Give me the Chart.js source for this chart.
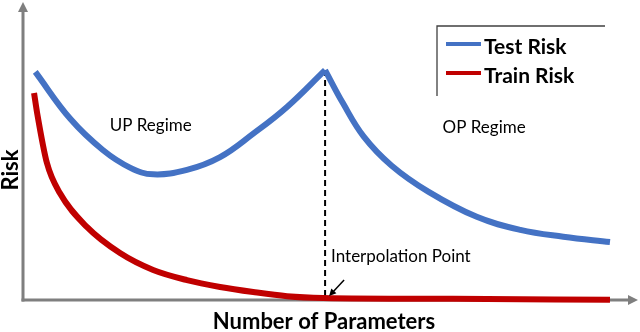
<!DOCTYPE html>
<html>
<head>
<meta charset="utf-8">
<script src="https://cdn.jsdelivr.net/npm/chart.js@4/dist/chart.umd.min.js"></script>
<style>
  html, body { margin: 0; padding: 0; background: #fff; }
  #wrap { width: 640px; height: 332px; }
</style>
</head>
<body>
<div id="wrap"><canvas id="risk-chart"></canvas></div>
<script>
// values (arbitrary units, 0..100 on both axes)
var testX  = [2.0, 7.7, 13.0, 17.5, 21.2, 26.7, 32.1, 37.5, 43.0, 49.2, 52.1, 55.5, 60.0, 66.0, 73.9, 81.0, 88.0, 95.6];
var testY  = [76.8, 61.0, 50.5, 44.5, 42.3, 43.8, 48.1, 56.0, 65.0, 77.4, 66.3, 55.0, 45.3, 36.5, 28.0, 23.6, 21.3, 19.5];
var trainX = [1.8, 2.3, 3.9, 6.0, 10.4, 15.8, 21.2, 26.7, 32.1, 37.5, 43.0, 48.9, 70.0, 95.6];
var trainY = [69.7, 63.0, 46.1, 36.0, 24.6, 15.8, 10.1, 6.7, 4.4, 2.7, 1.3, 0.7, 0.4, 0.1];
var interpolationX = 49.2;   // peak of test risk
var seriesNames = ["Test Risk", "Train Risk"];
var axisTitles  = ["Number of Parameters", "Risk"];
var regimeLabels = ["UP Regime", "OP Regime"];
var interpLabel = "Interpolation Point";

var BLUE = "#4472C4";
var RED  = "#C00000";
var FONT = "Lato, 'Open Sans', sans-serif";

var toPoints = function(xs, ys, from, to) {
    var pts = [];
    for (var i = from; i <= to; i++) pts.push({x: xs[i], y: ys[i]});
    return pts;
};

// split test risk at the peak so the cusp stays sharp
var peakIdx = testY.indexOf(Math.max.apply(null, testY));

var arrowLine = function(ctx, x1, y1, x2, y2, head, width) {
    var a = Math.atan2(y2 - y1, x2 - x1);
    ctx.beginPath();
    ctx.moveTo(x1, y1);
    ctx.lineTo(x2 - Math.cos(a) * head * 0.8, y2 - Math.sin(a) * head * 0.8);
    ctx.stroke();
    ctx.beginPath();
    ctx.moveTo(x2, y2);
    ctx.lineTo(x2 - head * Math.cos(a) + width * Math.sin(a), y2 - head * Math.sin(a) - width * Math.cos(a));
    ctx.lineTo(x2 - head * Math.cos(a) - width * Math.sin(a), y2 - head * Math.sin(a) + width * Math.cos(a));
    ctx.closePath();
    ctx.fill();
};

var axesPlugin = {
    id: "axesArrows",
    beforeDatasetsDraw: function(chart) {
        var ctx = chart.ctx, a = chart.chartArea;
        ctx.save();
        ctx.strokeStyle = "#7f7f7f";
        ctx.fillStyle = "#7f7f7f";
        ctx.lineWidth = 3;
        ctx.lineCap = "butt";
        var ox = a.left, oy = a.bottom;
        arrowLine(ctx, ox, oy + 1.5, ox, 2, 10, 5);
        arrowLine(ctx, ox - 1.5, oy, 638, oy, 10, 5);
        ctx.restore();
    }
};

var textPlugin = {
    id: "annotations",
    afterDatasetsDraw: function(chart) {
        var ctx = chart.ctx, xs = chart.scales.x, ys = chart.scales.y;
        ctx.save();
        ctx.fillStyle = "#000";
        ctx.textAlign = "center";
        ctx.textBaseline = "middle";

        ctx.font = "17px " + FONT;
        ctx.fillText(regimeLabels[0], xs.getPixelForValue(20.8), ys.getPixelForValue(58.6));
        ctx.fillText(regimeLabels[1], xs.getPixelForValue(75.1), ys.getPixelForValue(58.0));

        ctx.font = "17px " + FONT;
        ctx.textAlign = "left";
        ctx.fillText(interpLabel, xs.getPixelForValue(interpolationX) + 6, ys.getPixelForValue(14.5));

        // little arrow to the interpolation point
        ctx.strokeStyle = "#000";
        ctx.fillStyle = "#000";
        ctx.lineWidth = 1.5;
        var px = xs.getPixelForValue(interpolationX);
        arrowLine(ctx, px + 19, 280, px + 4, 296, 7, 3.5);

        // axis titles
        ctx.fillStyle = "#000";
        ctx.textAlign = "center";
        ctx.font = "bold 22px " + FONT;
        ctx.fillText(axisTitles[0], 324, 322);
        ctx.save();
        ctx.translate(11, 170);
        ctx.rotate(-Math.PI / 2);
        ctx.fillText(axisTitles[1], 0, 0);
        ctx.restore();

        // legend box (top + left edge)
        ctx.strokeStyle = "#404040";
        ctx.lineWidth = 1.3;
        ctx.beginPath();
        ctx.moveTo(605, 26);
        ctx.lineTo(437, 26);
        ctx.lineTo(437, 96);
        ctx.stroke();

        var colors = [BLUE, RED], rows = [45, 74];
        ctx.lineWidth = 4;
        ctx.textAlign = "left";
        ctx.font = "bold 21px " + FONT;
        for (var i = 0; i < 2; i++) {
            ctx.strokeStyle = colors[i];
            ctx.beginPath();
            ctx.moveTo(446, rows[i] - 1);
            ctx.lineTo(481, rows[i] - 1);
            ctx.stroke();
            ctx.fillStyle = "#000";
            ctx.fillText(seriesNames[i], 484, rows[i] + 2);
        }
        ctx.restore();
    }
};

new Chart(document.getElementById("risk-chart"), {
    type: "line",
    data: {
        datasets: [
            {
                label: seriesNames[0],
                data: toPoints(testX, testY, 0, peakIdx),
                borderColor: BLUE,
                borderWidth: 6,
                pointRadius: 0,
                tension: 0.4,
                clip: false,
                order: 1
            }, {
                label: seriesNames[0],
                data: toPoints(testX, testY, peakIdx, testX.length - 1),
                borderColor: BLUE,
                borderWidth: 6,
                pointRadius: 0,
                tension: 0.4,
                clip: false,
                order: 1
            }, {
                label: seriesNames[1],
                data: toPoints(trainX, trainY, 0, trainX.length - 1),
                borderColor: RED,
                borderWidth: 6,
                pointRadius: 0,
                cubicInterpolationMode: "monotone",
                clip: false,
                order: 0
            }, {
                label: "interpolation",
                data: [{x: interpolationX, y: testY[peakIdx]}, {x: interpolationX, y: 0}],
                borderColor: "#000",
                borderWidth: 2,
                borderDash: [6, 4],
                pointRadius: 0,
                clip: false,
                order: 2
            }
        ]
    },
    options: {
        responsive: true,
        maintainAspectRatio: false,
        animation: false,
        layout: { padding: { left: 23, right: 3, top: 3, bottom: 32 } },
        plugins: {
            legend: { display: false },
            tooltip: { enabled: false }
        },
        scales: {
            x: { type: "linear", min: 0, max: 100, display: false },
            y: { type: "linear", min: 0, max: 100, display: false }
        }
    },
    plugins: [axesPlugin, textPlugin]
});
</script>
</body>
</html>
